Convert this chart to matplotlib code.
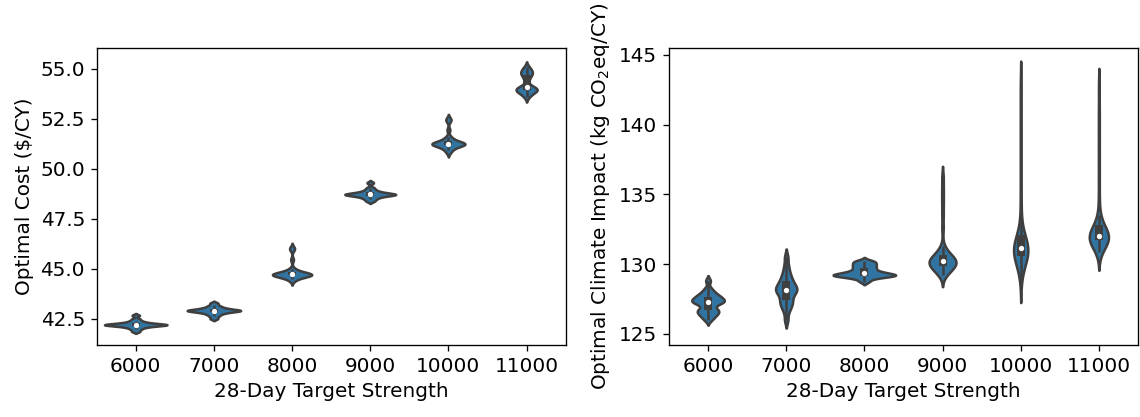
import pandas as pd
import seaborn as sns
import matplotlib
matplotlib.use("Agg")
import matplotlib.pyplot as plt
from matplotlib.cbook import boxplot_stats

strengths = [6000, 7000, 8000, 9000, 10000, 11000]

# optimal mix cost per strength class ($/CY)
cost_6000 = [41.86, 41.96, 42.03, 42.08, 42.11, 42.14, 42.16, 42.17, 42.18, 42.19,
             42.2, 42.21, 42.22, 42.24, 42.26, 42.29, 42.33, 42.39, 42.48, 42.66]
cost_7000 = [42.5, 42.62, 42.7, 42.76, 42.8, 42.83, 42.86, 42.88, 42.89, 42.9,
             42.91, 42.93, 42.95, 42.97, 43.0, 43.04, 43.09, 43.16, 43.27]
cost_8000 = [44.4, 44.5, 44.56, 44.6, 44.63, 44.65, 44.67, 44.68, 44.69, 44.7,
             44.7, 44.71, 44.72, 44.73, 44.75, 44.77, 44.8, 44.84, 44.9, 45.0,
             45.45, 45.95, 46.05]
cost_9000 = [48.38, 48.47, 48.54, 48.59, 48.63, 48.66, 48.68, 48.7, 48.71, 48.72,
             48.73, 48.75, 48.77, 48.8, 48.83, 48.88, 48.95, 49.05, 49.3]
cost_10000 = [50.82, 50.95, 51.03, 51.09, 51.14, 51.17, 51.2, 51.22, 51.23, 51.24,
              51.25, 51.26, 51.28, 51.3, 51.33, 51.37, 51.42, 51.5, 51.6,
              51.95, 52.4, 52.5]
cost_11000 = [53.6, 53.72, 53.8, 53.85, 53.9, 53.93, 53.96, 53.99, 54.02, 54.05,
              54.1, 54.2, 54.45, 54.6, 54.7, 54.77, 54.83, 54.9, 54.98, 55.1]

# optimal mix climate impact (kg CO2eq/CY)
gwp_6000 = [126.0, 126.2, 126.35, 126.45, 126.55, 126.65, 126.72, 126.8, 127.05, 127.2,
            127.24, 127.27, 127.33, 127.4, 127.46, 127.53, 127.6, 127.68, 127.77, 127.88,
            128.02, 128.25, 128.8]
gwp_7000 = [126.0, 126.6, 126.9, 127.1, 127.25, 127.4, 127.6, 127.8, 127.95, 128.05,
            128.1, 128.2, 128.3, 128.4, 128.5, 128.65, 128.8, 129.0, 129.2, 129.5,
            129.9, 130.5]
gwp_8000 = [128.75, 128.95, 129.05, 129.1, 129.15, 129.18, 129.2, 129.22, 129.25, 129.3,
            129.35, 129.4, 129.45, 129.55, 129.65, 129.75, 129.85, 129.95, 130.05,
            130.15, 130.25]
gwp_9000 = [129.2, 129.35, 129.47, 129.55, 129.61, 129.66, 129.72, 129.78, 129.84,
            129.9, 129.96, 130.01, 130.06, 130.1, 130.14, 130.17, 130.19, 130.21, 130.24,
            130.28, 130.33, 130.39, 130.45, 130.52, 130.59, 130.65, 130.72, 130.85, 131.0,
            131.3, 132.6, 133.6, 134.5, 135.3, 136.2]
gwp_10000 = [128.8, 129.4, 129.7, 129.9, 130.05, 130.15, 130.25, 130.35, 130.43, 130.5,
             130.57, 130.64, 130.7, 130.77, 130.83, 130.9, 130.96, 131.02, 131.08, 131.12,
             131.16, 131.22, 131.3, 131.38, 131.45, 131.52, 131.6, 131.68, 131.76, 131.84,
             131.95, 132.1, 132.4, 132.9,
             133.8, 135.0, 136.3, 137.6, 138.9, 140.2, 141.6, 143.0]
gwp_11000 = [130.9, 131.1, 131.25, 131.35, 131.43, 131.5, 131.56, 131.62, 131.67, 131.72,
             131.76, 131.8, 131.84, 131.87, 131.9, 131.92, 131.94, 131.97, 132.0, 132.03,
             132.07, 132.11, 132.15, 132.2, 132.26, 132.32, 132.4, 132.5, 132.62, 132.76,
             132.95, 133.2, 133.5,
             134.6, 135.9, 137.2, 138.5, 139.8, 141.1, 142.7]

cost = [cost_6000, cost_7000, cost_8000, cost_9000, cost_10000, cost_11000]
gwp = [gwp_6000, gwp_7000, gwp_8000, gwp_9000, gwp_10000, gwp_11000]

LINE = "#3f3f3f"


def long_form(groups, name):
    rows = []
    for s, vals in zip(strengths, groups):
        for v in vals:
            rows.append({"strength": s, name: v})
    return pd.DataFrame(rows)


def violins(ax, groups, name):
    df = long_form(groups, name)
    sns.violinplot(data=df, x="strength", y=name, order=strengths, ax=ax,
                   inner=None, bw_adjust=0.5, linewidth=1.5)
    for coll in ax.collections:
        coll.set_edgecolor(LINE)
    # box, whiskers and median dot on top of each violin
    for i, vals in enumerate(groups):
        st = boxplot_stats(vals)[0]
        ax.plot([i, i], [st["whislo"], st["whishi"]], color=LINE, lw=1.5,
                solid_capstyle="butt", zorder=3)
        ax.plot([i, i], [st["q1"], st["q3"]], color=LINE, lw=4.8,
                solid_capstyle="butt", zorder=3)
        ax.plot(i, st["med"], "o", color="white", ms=3.2, mew=0, zorder=4)
    ax.set_xlim(-0.5, len(strengths) - 0.5)


plt.rcParams["font.size"] = 12
fig = plt.figure(figsize=(9.5, 3.475), dpi=120)
ax1 = fig.add_axes([0.0848, 0.1727, 0.4114, 0.7122])
ax2 = fig.add_axes([0.5868, 0.1727, 0.4114, 0.7122])

violins(ax1, cost, "cost")
ax1.set_ylim(41.18, 56.05)
ax1.set_xlabel("28-Day Target Strength")
ax1.set_ylabel("Optimal Cost ($/CY)")

violins(ax2, gwp, "gwp")
ax2.set_ylim(124.2, 145.5)
ax2.set_xlabel("28-Day Target Strength")
ax2.set_ylabel("Optimal Climate Impact (kg CO$_2$eq/CY)")

fig.savefig("out.png", dpi=120)
